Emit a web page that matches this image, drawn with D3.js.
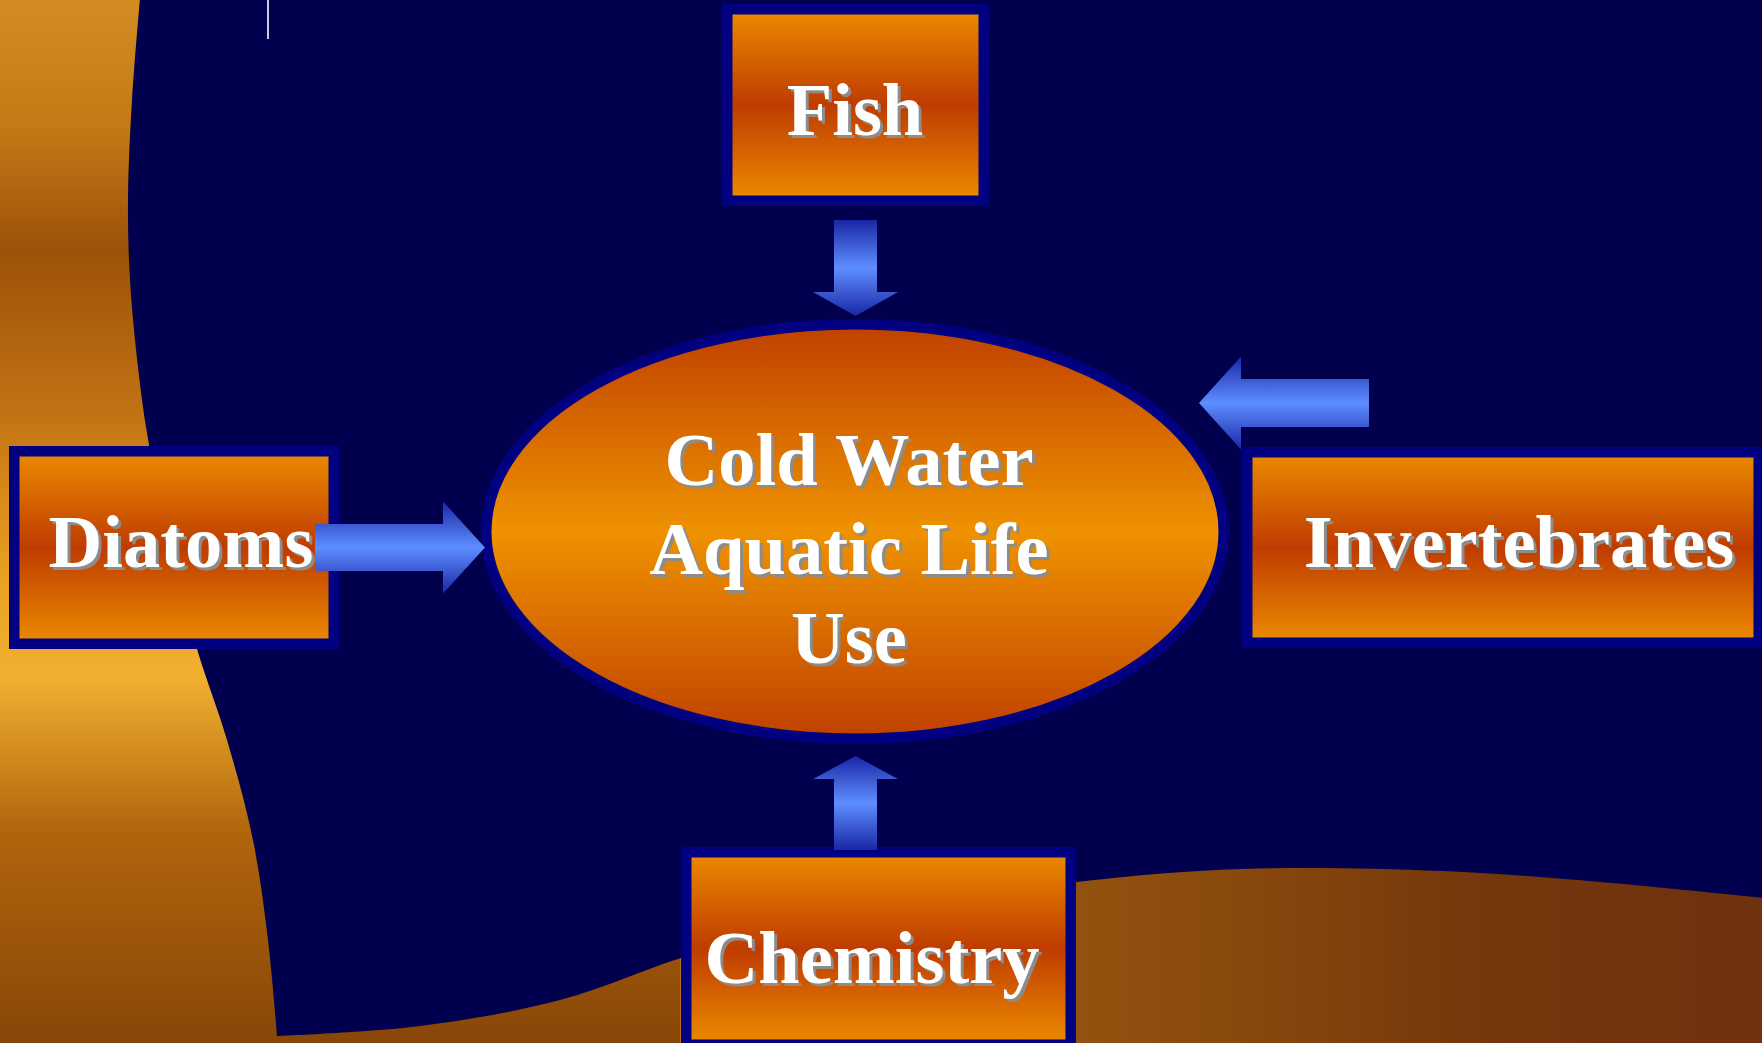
<!DOCTYPE html>
<html>
 <head>
 <title>Cold Water Aquatic Life Use | D3</title>
    <script src="https://d3js.org/d3.v7.min.js" charset="utf-8"></script>
 <style>
body {
 margin: 0;
 overflow: hidden;
 background: #00004e;
}
text {
 font-family: "Liberation Serif", "Times New Roman", serif;
 font-weight: bold;
}
</style>
  </head>
  <body>
  <script>
    // labels of the four boxes and the centre oval
    var boxLabels = ["Fish", "Diatoms", "Invertebrates", "Chemistry"];
    var centerLines = ["Cold Water", "Aquatic Life", "Use"];

    // box outer bounds [x0, y0, x1, y1] and label anchor [x, baseline]
    var boxBounds = [[722, 4, 989, 206], [9, 446, 339, 649], [1242, 447, 1764, 648], [681, 847, 1076, 1050]];
    var boxText = [[855, 135], [181, 567], [1519, 567], [872, 983]];

    // arrows: tail, tip, shaft half width, head half width, head length
    var arrows = [
      {tail: [855.5, 220], tip: [855.5, 316], sw: 21.5, hw: 42.5, hl: 24},
      {tail: [315, 547.5], tip: [485, 547.5], sw: 23.5, hw: 46, hl: 42},
      {tail: [1369, 403], tip: [1199, 403], sw: 24, hw: 46.5, hl: 42},
      {tail: [855.5, 850], tip: [855.5, 756], sw: 21.5, hw: 42.5, hl: 23}
    ];

    // edge of the dark area against the orange swoosh
    var leftEdge = [[140, -2], [132, 100], [128, 200], [130, 280], [138, 367], [147, 433], [168, 540], [197, 649], [227, 740], [253, 840], [268, 940], [277, 1036]];
    var bottomEdge = [[277, 1036], [420, 1026], [560, 1000], [700, 952], [880, 910], [1076, 882], [1242, 869], [1442, 871], [1600, 882], [1764, 898]];

    var width = 1762;
    var height = 1043;
    var lineHeight = 89;
    var fontSize = 74.5;

    var svg = d3.select("body")
     .append("svg")
     .attr("width", width)
     .attr("height", height);

    var defs = svg.append("defs");

    function grad(id, stops, horiz) {
      var g = defs.append("linearGradient")
       .attr("id", id)
       .attr("x1", 0).attr("y1", 0)
       .attr("x2", horiz ? 1 : 0).attr("y2", horiz ? 0 : 1);
      g.selectAll("stop").data(stops).enter().append("stop")
       .attr("offset", function(d) { return d[0]; })
       .attr("stop-color", function(d) { return d[1]; });
    }
    grad("boxGrad", [[0, "#ec8c00"], [0.5, "#bf3c00"], [1, "#ec8c00"]]);
    grad("ovalGrad", [[0, "#bf4000"], [0.5, "#ef9200"], [1, "#bf4000"]]);
    grad("arrowGrad", [[0, "#1a26a6"], [0.5, "#5e8eff"], [1, "#1a26a6"]]);
    grad("leftGrad", [[0, "#d28c22"], [0.12, "#c47a16"], [0.24, "#9c5208"], [0.4, "#c27414"],
      [0.55, "#e8a022"], [0.65, "#f0b030"], [0.8, "#b0640c"], [1, "#884608"]]);
    grad("bottomGrad", [[0, "#b4701a"], [0.25, "#9a5810"], [0.5, "#8a4a0c"], [0.75, "#74360c"], [1, "#6e3210"]], true);

    // orange swooshes behind the dark area
    svg.append("rect")
     .attr("x", 0).attr("y", 0)
     .attr("width", 720).attr("height", height)
     .attr("fill", "url(#leftGrad)");
    svg.append("rect")
     .attr("x", 680).attr("y", 840)
     .attr("width", width - 680).attr("height", height - 840)
     .attr("fill", "url(#bottomGrad)");

    var edgeLine = d3.line().curve(d3.curveCatmullRom);
    var darkPath = edgeLine(leftEdge) + edgeLine(bottomEdge).replace(/^M/, "L") + "L1764,-2Z";
    svg.append("path")
     .attr("d", darkPath)
     .attr("fill", "#00004e");

    // small cursor mark at the top
    svg.append("line")
     .attr("x1", 268).attr("x2", 268)
     .attr("y1", 0).attr("y2", 39)
     .attr("stroke", "#c8c8e6")
     .attr("stroke-width", 2);

    var bw = 10.5;

    // centre oval
    svg.append("ellipse")
     .attr("cx", 855).attr("cy", 531.5)
     .attr("rx", 374 - bw / 2).attr("ry", 212.5 - bw / 2)
     .attr("fill", "url(#ovalGrad)")
     .attr("stroke", "#000080")
     .attr("stroke-width", bw);

    // boxes
    var boxes = svg.selectAll(".box")
     .data(boxLabels)
     .enter()
     .append("g")
     .attr("class", "box");

    boxes.append("rect")
     .attr("x", function(d, i) { return boxBounds[i][0] + bw / 2; })
     .attr("y", function(d, i) { return boxBounds[i][1] + bw / 2; })
     .attr("width", function(d, i) { return boxBounds[i][2] - boxBounds[i][0] - bw; })
     .attr("height", function(d, i) { return boxBounds[i][3] - boxBounds[i][1] - bw; })
     .attr("fill", "url(#boxGrad)")
     .attr("stroke", "#000080")
     .attr("stroke-width", bw);

    // white labels with a grey drop shadow
    function shadowText(sel, x, y, off) {
      sel.append("text")
       .attr("x", function(d, i) { return x(d, i) + off; })
       .attr("y", function(d, i) { return y(d, i) + off; })
       .attr("text-anchor", "middle")
       .attr("font-size", fontSize)
       .attr("fill", off ? "#8c8c8c" : "#ffffff")
       .text(function(d) { return d; });
    }
    [3, 0].forEach(function(off) {
      shadowText(boxes, function(d, i) { return boxText[i][0]; }, function(d, i) { return boxText[i][1]; }, off);
    });

    // arrows
    function arrowPath(a) {
      var dx = a.tip[0] - a.tail[0], dy = a.tip[1] - a.tail[1];
      var len = Math.sqrt(dx * dx + dy * dy);
      var ux = dx / len, uy = dy / len, px = -uy, py = ux;
      var bx = a.tip[0] - ux * a.hl, by = a.tip[1] - uy * a.hl;
      var pts = [
        [a.tail[0] + px * a.sw, a.tail[1] + py * a.sw],
        [bx + px * a.sw, by + py * a.sw],
        [bx + px * a.hw, by + py * a.hw],
        a.tip,
        [bx - px * a.hw, by - py * a.hw],
        [bx - px * a.sw, by - py * a.sw],
        [a.tail[0] - px * a.sw, a.tail[1] - py * a.sw]
      ];
      return d3.line()(pts) + "Z";
    }
    svg.selectAll(".arrow")
     .data(arrows)
     .enter()
     .append("path")
     .attr("class", "arrow")
     .attr("d", arrowPath)
     .attr("fill", "url(#arrowGrad)");

    // centre text
    var centre = svg.append("g").selectAll("g")
     .data(centerLines)
     .enter()
     .append("g");
    [3, 0].forEach(function(off) {
      shadowText(centre, function() { return 849; }, function(d, i) { return 485 + i * lineHeight; }, off);
    });
   </script>
 </body>
</html>
